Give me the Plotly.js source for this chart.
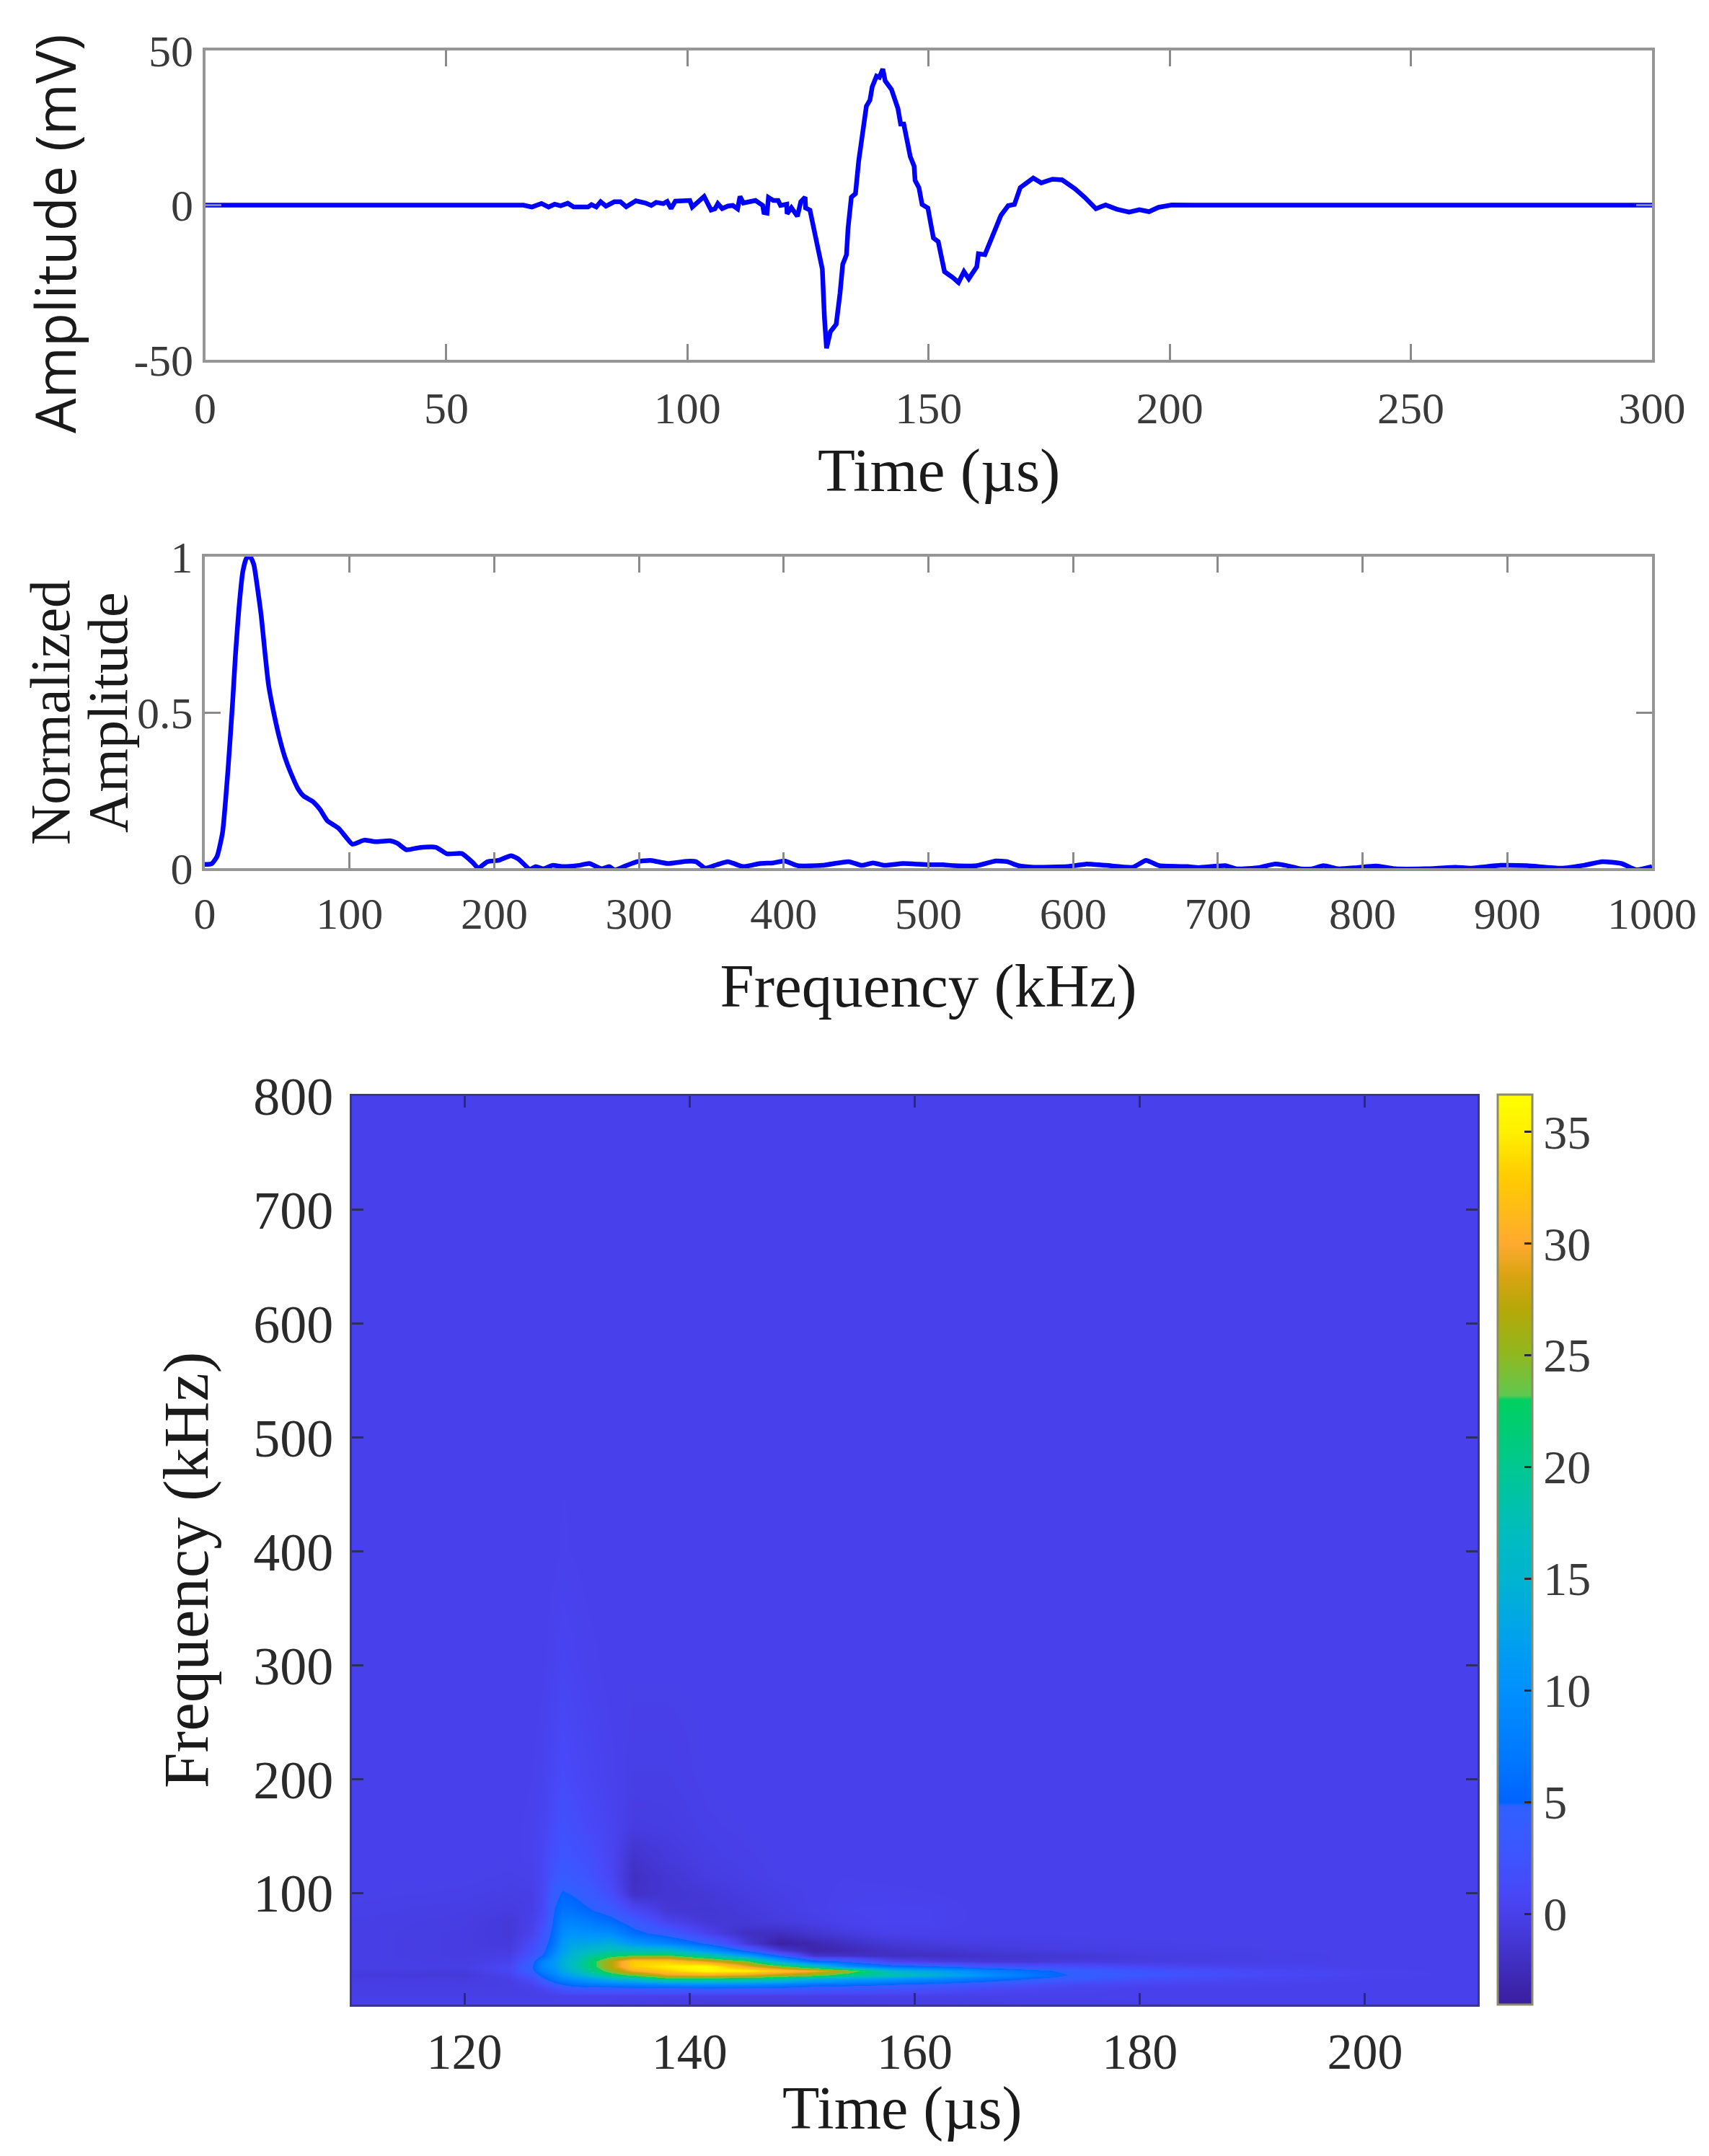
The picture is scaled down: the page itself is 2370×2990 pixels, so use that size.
<!DOCTYPE html>
<html>
<head>
<meta charset="utf-8">
<script src="https://cdn.plot.ly/plotly-3.0.1.min.js"></script>
<style>body { margin: 0; background: #fff; }</style>
</head>
<body>
<div id="plot"></div>
<script>
    // top panel, waveform
    let waveT = [0, 50.15, 66, 67.75, 69.73, 71.2, 72.46, 73.7, 75.2, 76.4, 77.9, 79.4, 80.1, 81.1, 82, 83.1, 84.85, 86.1, 87.3, 89.3, 91.3, 92.5, 93.5, 95, 95.8, 96.6, 97.5, 100.5, 101, 102.2, 103.45, 104.9, 105.7, 106.3, 107.2, 108.4, 109.4, 110.4, 110.9, 111.6, 114.1, 115.6, 115.85, 116.5, 116.8, 117.8, 118.8, 119.3, 120.6, 120.65, 121.55, 122.8, 123.5, 124.4, 124.5, 125.4, 126.25, 126.6, 127.3, 127.97, 128.4, 128.84, 129.64, 130.84, 131.64, 132.2, 132.97, 133.3, 133.98, 134.84, 135.5, 136.3, 137.1, 137.84, 138.3, 139.2, 139.8, 140.5, 141, 142.3, 143.65, 144.2, 144.85, 145.65, 146.2, 147, 147.2, 148, 148.65, 149.85, 151, 152, 152.66, 153.3, 155, 156.2, 157.33, 158.33, 160, 160.33, 161.67, 164, 165, 166.5, 167.8, 169, 171.7, 173.35, 175.7, 177.7, 180.35, 182.35, 184.7, 186.7, 189, 191.56, 193.7, 195.7, 197.7, 200.4, 205, 300];
    let waveMv = [0, 0, 0, -0.6, 0.54, -0.6, 0.3, -0.2, 0.6, -0.6, -0.6, -0.6, 0.15, -0.6, 1.1, -0.3, 1.1, 1.1, -0.5, 1.4, 0.7, -0.1, 0.9, 0.5, 1.2, -1.1, 1.3, 1.5, -0.6, 1.2, 2.8, -1.6, -1.2, 0.5, -1.1, -0.3, -0.1, -1.2, 2.8, 0.7, 1.5, -0.1, -2.4, -2.6, 2.5, 1.5, 1.5, -0.1, 0.3, -2.8, -0.85, -3.6, 1.1, 2.6, -0.9, -1.6, -7.8, -9.85, -16.4, -20.7, -36.2, -46.3, -40.9, -38.5, -28.45, -19.1, -16.05, -7.5, 2.56, 3.72, 14.2, 23.5, 32, 33.95, 38.2, 41.7, 41.3, 44, 40.2, 37.4, 31.2, 26.2, 26.2, 20, 15.7, 12.6, 8, 5.65, 0.23, -0.93, -10.6, -11.8, -17.6, -21.5, -23.4, -25, -21.5, -23.8, -19.9, -15.7, -16, -7.5, -3.3, -0.16, 0.23, 5.65, 8.76, 7.2, 8.4, 8.15, 5.3, 2.56, -1.17, 0.07, -1.3, -2.25, -1.47, -2.1, -0.7, 0.07, 0, 0];

    // middle panel, spectrum
    let specF = [0, 4.7, 8.5, 12.3, 16.1, 19.2, 21.2, 23.7, 26.3, 28.8, 31.4, 33.9, 36.4, 39, 41.5, 44, 47.9, 51.7, 55.5, 59.3, 64.4, 68.2, 74.6, 79.7, 84.7, 92.4, 97.5, 102, 110.2, 117.8, 128, 133, 139.4, 148.3, 159.7, 167.4, 177.5, 185.2, 189, 195.3, 203, 211.6, 216.8, 224.7, 228.6, 233.8, 240.3, 246.8, 258.5, 265.6, 274.2, 279.4, 283.3, 291.1, 298.9, 308, 319.8, 332.8, 339.3, 345.8, 353.7, 361.5, 371.9, 383.6, 392.7, 400.6, 409.7, 426.6, 444.9, 454, 461.8, 469.6, 482.6, 499.6, 510, 517.8, 533.5, 546.5, 554.3, 562.1, 572.6, 596, 608.7, 623, 641.3, 650.4, 659.5, 679.1, 686.9, 705.1, 713, 728.6, 739, 746.8, 757.3, 765, 772.9, 783.3, 796.4, 809.4, 822.4, 843.3, 864.1, 874.5, 895.4, 913.6, 937.1, 952.7, 965.7, 978.8, 989.2, 1000];
    let specAmp = [0.012, 0.014, 0.038, 0.116, 0.32, 0.53, 0.685, 0.84, 0.953, 0.995, 1, 0.974, 0.9, 0.81, 0.695, 0.59, 0.493, 0.416, 0.354, 0.307, 0.255, 0.232, 0.214, 0.188, 0.152, 0.128, 0.1, 0.077, 0.09, 0.085, 0.088, 0.08, 0.059, 0.066, 0.067, 0.046, 0.047, 0.018, 0, 0.021, 0.025, 0.04, 0.029, -0.004, 0.005, -0.002, 0.009, 0.005, 0.009, 0.015, -0.002, 0.005, -0.006, 0.008, 0.021, 0.025, 0.015, 0.022, 0.021, 0, 0.011, 0.021, 0.005, 0.015, 0.017, 0.023, 0.008, 0.009, 0.021, 0.009, 0.017, 0.009, 0.015, 0.011, 0.011, 0.008, 0.008, 0.023, 0.021, 0.008, 0.003, 0.005, 0.013, 0.009, 0.003, 0.025, 0.008, 0.005, 0.002, 0.008, -0.002, 0.002, 0.013, 0.009, -0.002, -0.002, 0.008, -0.002, 0.002, 0.007, -0.002, -0.002, 0.003, 0, 0.009, 0.008, 0, 0.009, 0.021, 0.015, -0.005, 0.005];

    // bottom panel, scalogram: one column of values per entry of mapT
    let mapT = [110, 120, 124, 126, 127, 128, 128.7, 129.5, 131, 133, 135, 138, 141.5, 145, 148, 151, 154, 158, 162, 166, 170, 174, 180, 190, 200, 210];
    let mapF = [2, 10, 16, 20, 25, 28, 32, 36, 40, 45, 50, 56, 65, 75, 85, 100, 115, 130, 160, 200, 300, 400, 600, 800];
    let mapZ = [
        [0, -.2, -.2, -.3, -.5, -.8, -.5, -.2, -.2, -.2, -.2, -.2, -.2, -.2, -.1, 0, 0, 0, 0, 0, 0, 0, 0, 0],
        [0, -.2, -.3, -.4, -.6, -.9, -.6, -.3, -.4, -.5, -.5, -.5, -.5, -.4, -.3, -.1, 0, 0, 0, 0, 0, 0, 0, 0],
        [0, -.2, -.3, -.3, -.2, .2, .8, .8, .2, -.2, -.5, -.8, -.9, -.9, -.6, -.3, -.1, 0, 0, 0, 0, 0, 0, 0],
        [0, -.2, -.1, .3, 1.5, 3, 4.5, 4.8, 4, 2.5, 1.8, 1.2, .3, 0, -.2, -.2, 0, .2, .2, .1, 0, 0, 0, 0],
        [0, -.2, .4, 2, 4.5, 6, 8, 9, 8.5, 5.2, 4.2, 3.5, 2.5, 1.5, 1, .8, .8, .8, .5, .3, .05, 0, 0, 0],
        [0, -.1, 1.5, 4, 7, 8.5, 10, 11, 11, 10, 8.5, 7, 6.2, 5.6, 5, 4, 2.8, 2, 1.4, .9, .3, .05, 0, 0],
        [0, 0, 2.5, 5, 8.5, 11, 13, 14, 14, 13, 12, 11, 9.5, 8, 6.5, 5.2, 3.5, 2.8, 2, 1.3, .5, .15, 0, 0],
        [0, 0, 3, 6, 10, 12.5, 15, 16.5, 16.5, 15, 14, 12.5, 10.5, 8.5, 6.5, 4.8, 3.2, 2.5, 1.7, 1, .4, .1, 0, 0],
        [0, 0, 3.5, 7, 12, 16, 19.5, 21, 21, 19, 16, 13, 10, 7.5, 5.2, 3.5, 2.4, 1.8, 1, .6, .2, 0, 0, 0],
        [-.1, 0, 3.5, 7.5, 15, 21, 25, 27, 27, 22, 18, 14, 9.5, 6, 3.6, 1.5, .7, .6, .4, .2, 0, 0, 0, 0],
        [-.3, 0, 3.5, 8, 17, 24, 30, 33, 33, 23.5, 17, 11, 6, 3.5, 1, -1.8, -2, -1.6, -.5, -.2, 0, 0, 0, 0],
        [-.5, 0, 3.8, 9, 22, 29, 33, 35, 33, 24, 17, 8.5, 3.5, .3, -1, -1.3, -1.2, -.8, -.4, -.2, 0, 0, 0, 0],
        [-.7, -.2, 4, 9.5, 22, 30, 36, 36.6, 29, 19, 11, 4.5, .2, -1, -1.2, -1, -.5, -.3, -.1, 0, 0, 0, 0, 0],
        [-.7, -.3, 4, 9, 21, 29, 35.5, 30, 24.5, 12, 4.5, -.8, -2, -1, -.8, -.5, -.2, -.1, 0, 0, 0, 0, 0, 0],
        [-.7, -.3, 3.8, 8, 19, 27, 32.5, 25, 14, 4.6, -1, -3.8, -2.2, -.6, -.4, -.2, 0, 0, 0, 0, 0, 0, 0, 0],
        [-.6, -.2, 3, 6.5, 15, 25, 30, 19, 6, -1.5, -3.2, -3, -1.3, -.3, 0, 0, 0, 0, 0, 0, 0, 0, 0, 0],
        [-.5, -.2, 2.8, 6, 13, 21, 26, 10, 4.5, -1.8, -2.8, -2, -.6, .2, .3, .2, .1, 0, 0, 0, 0, 0, 0, 0],
        [-.4, -.1, 2.5, 5, 11, 18.5, 15, 6.5, .5, -2, -1.8, -1, .1, .4, .4, .2, 0, 0, 0, 0, 0, 0, 0, 0],
        [-.4, -.1, 2, 4, 9, 14.5, 12, 5, -.5, -2, -1.4, -.6, 0, .3, .3, .1, 0, 0, 0, 0, 0, 0, 0, 0],
        [-.3, -.1, 1, 3, 7, 10.5, 8.5, 3, -1, -1.6, -1, -.4, 0, 0, 0, 0, 0, 0, 0, 0, 0, 0, 0, 0],
        [-.2, 0, .6, 2, 5, 7.5, 6, 2, -1, -1.3, -.7, -.3, 0, 0, 0, 0, 0, 0, 0, 0, 0, 0, 0, 0],
        [-.2, 0, .3, 1, 3.5, 4.6, 4, 1.5, -.7, -1.1, -.5, -.2, 0, 0, 0, 0, 0, 0, 0, 0, 0, 0, 0, 0],
        [-.1, 0, 0, .5, 1.8, 3, 2.5, .8, -.5, -.6, -.3, -.1, 0, 0, 0, 0, 0, 0, 0, 0, 0, 0, 0, 0],
        [0, 0, 0, .2, .7, 1.2, 1, .2, -.2, -.2, -.1, 0, 0, 0, 0, 0, 0, 0, 0, 0, 0, 0, 0, 0],
        [0, 0, 0, 0, .1, .3, .2, 0, 0, 0, 0, 0, 0, 0, 0, 0, 0, 0, 0, 0, 0, 0, 0, 0],
        [0, 0, 0, 0, 0, 0, 0, 0, 0, 0, 0, 0, 0, 0, 0, 0, 0, 0, 0, 0, 0, 0, 0, 0]
    ];

    // colour bar stops: value, colour
    let zMin = -4.06, zMax = 36.66;
    let barStops = [
        [-4.06, '#3a1e9e'], [-2, '#4030c4'], [0, '#4840ea'], [1, '#4848f8'], [3, '#3a58ff'], [4.8, '#3060ff'],
        [5, '#0064ff'], [7, '#0078ff'], [10, '#0090ff'], [12, '#009ff0'], [15, '#00b4d0'], [17, '#00bcc0'],
        [20, '#00c890'], [23, '#00d060'], [23.2, '#60c850'], [25, '#90b820'], [27, '#b4a808'], [28.5, '#d8a410'],
        [30, '#ffaa30'], [33, '#ffcc00'], [35, '#fff000'], [36.66, '#ffff00']
    ];
    let mapScale = barStops.map((s) => [(s[0] - zMin) / (zMax - zMin), s[1]]);

    let W = 2370, H = 2990;
    let serif = '"Liberation Serif", serif';
    let frame = {
        showline: true, mirror: 'ticks', linecolor: '#969696', linewidth: 4,
        ticks: 'inside', ticklen: 22, tickwidth: 3, tickcolor: '#8a8a8a',
        showgrid: false, zeroline: false,
        tickfont: {family: serif, size: 62, color: '#3a3a3a'}
    };
    let heatFrame = Object.assign({}, frame, {
        linecolor: '#3a3492', linewidth: 3, ticklen: 16, tickcolor: '#2c2c6c',
        tickfont: {family: serif, size: 74, color: '#2a2a2a'}
    });
    let titleFont = (size) => ({family: serif, size: size, color: '#1a1a1a'});

    let data = [
        {type: 'scatter', mode: 'lines', x: waveT, y: waveMv, xaxis: 'x', yaxis: 'y',
            line: {color: '#0000ff', width: 6.5}, cliponaxis: false, hoverinfo: 'skip'},
        {type: 'scatter', mode: 'lines', x: specF, y: specAmp, xaxis: 'x2', yaxis: 'y2',
            line: {color: '#0000ff', width: 6.5, shape: 'spline', smoothing: 0.5}, cliponaxis: false, hoverinfo: 'skip'},
        {type: 'heatmap', x: mapT, y: mapF, z: mapZ, transpose: true, xaxis: 'x3', yaxis: 'y3',
            zsmooth: 'best', zmin: zMin, zmax: zMax, colorscale: mapScale,
            colorbar: {
                x: 2077 / W, xanchor: 'left', xpad: 0, ypad: 0,
                y: 1 - 1518 / H, yanchor: 'top', len: 1262 / H, lenmode: 'fraction',
                thickness: 48, thicknessmode: 'pixels',
                outlinecolor: '#8c8c6c', outlinewidth: 3, borderwidth: 0,
                tickmode: 'array', tickvals: [0, 5, 10, 15, 20, 25, 30, 35], ticktext: ['0', '5', '10', '15', '20', '25', '30', '35'],
                ticks: 'inside', ticklen: 12, tickwidth: 3, tickcolor: '#2a2a2a',
                tickfont: {family: serif, size: 66, color: '#3a3a3a'}
            }}
    ];

    // titles that sit off-centre in the reference are annotations, the rest are axis titles
    let layout = {
        width: W, height: H, autosize: false, showlegend: false,
        margin: {l: 0, r: 0, t: 0, b: 0, pad: 0},
        paper_bgcolor: '#ffffff', plot_bgcolor: '#ffffff',
        xaxis: Object.assign({}, frame, {
            anchor: 'y', domain: [284.5 / W, 2291 / W], range: [0, 300],
            tickmode: 'array', tickvals: [0, 50, 100, 150, 200, 250, 300], ticklabelstandoff: 10
        }),
        yaxis: Object.assign({}, frame, {
            anchor: 'x', domain: [1 - 499 / H, 1 - 70 / H], range: [-50, 50],
            tickmode: 'array', tickvals: [-50, 0, 50], ticktext: ['-50', '0', '50']
        }),
        xaxis2: Object.assign({}, frame, {
            anchor: 'y2', domain: [284 / W, 2291 / W], range: [0, 1000],
            tickmode: 'array', tickvals: [0, 100, 200, 300, 400, 500, 600, 700, 800, 900, 1000], ticklabelstandoff: 6,
            title: {text: 'Frequency (kHz)', font: titleFont(85), standoff: 37}
        }),
        yaxis2: Object.assign({}, frame, {
            anchor: 'x2', domain: [1 - 1204 / H, 1 - 772 / H], range: [0, 1],
            tickmode: 'array', tickvals: [0, 0.5, 1], ticktext: ['0', '0.5', '1'],
            title: {text: 'Normalized', font: titleFont(78), standoff: 69}
        }),
        xaxis3: Object.assign({}, heatFrame, {
            anchor: 'y3', domain: [488 / W, 2049 / W], range: [110, 210],
            tickmode: 'array', tickvals: [120, 140, 160, 180, 200], ticklabelstandoff: 2,
            tickfont: {family: serif, size: 70, color: '#2a2a2a'}
        }),
        yaxis3: Object.assign({}, heatFrame, {
            anchor: 'x3', domain: [1 - 2780 / H, 1 - 1520 / H], range: [2.2, 800],
            tickmode: 'array', tickvals: [100, 200, 300, 400, 500, 600, 700, 800], ticklabelstandoff: 8
        }),
        annotations: [
            {xref: 'paper', yref: 'paper', x: 76 / W, y: 1 - 324 / H, xanchor: 'center', yanchor: 'middle',
                text: 'Amplitude (mV)', textangle: -90, showarrow: false,
                font: {family: '"Open Sans", sans-serif', size: 77, color: '#1a1a1a'}},
            {xref: 'paper', yref: 'paper', x: 1302 / W, y: 1 - 652 / H, xanchor: 'center', yanchor: 'middle',
                text: 'Time (µs)', showarrow: false, font: titleFont(85)},
            {xref: 'paper', yref: 'paper', x: 150 / W, y: 1 - 988 / H, xanchor: 'center', yanchor: 'middle',
                text: 'Amplitude', textangle: -90, showarrow: false, font: titleFont(78)},
            {xref: 'paper', yref: 'paper', x: 258 / W, y: 1 - 2178 / H, xanchor: 'center', yanchor: 'middle',
                text: 'Frequency (kHz)', textangle: -90, showarrow: false, font: titleFont(89)},
            {xref: 'paper', yref: 'paper', x: 1251 / W, y: 1 - 2924 / H, xanchor: 'center', yanchor: 'middle',
                text: 'Time (µs)', showarrow: false, font: titleFont(84)}
        ]
    };

    Plotly.newPlot('plot', data, layout, {displayModeBar: false, responsive: false});
</script>
</body>
</html>
